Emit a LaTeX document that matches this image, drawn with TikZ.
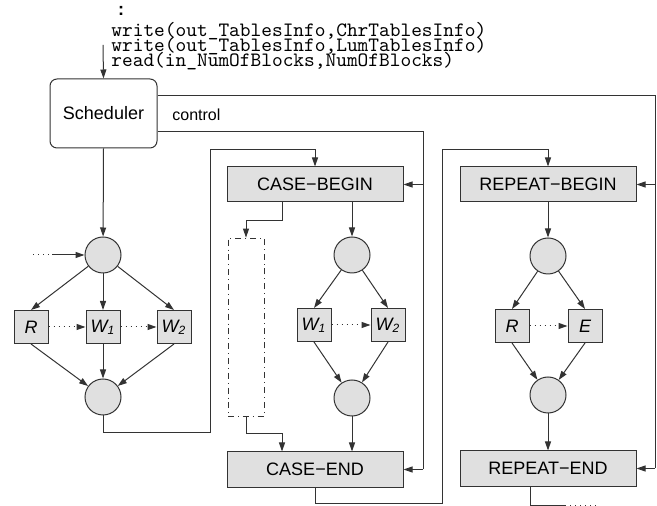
\documentclass[tikz,border=0pt]{standalone}
\usepackage{fontspec}
\setmainfont{Liberation Sans}
\usepackage{tikz}
\usetikzlibrary{positioning, calc, arrows.meta}
\definecolor{boxgray}{HTML}{E0E0E0}
\definecolor{linegray}{HTML}{333333}
\newcommand{\tightlines}{\lineskiplimit=-20pt\relax\lineskip=0pt\relax}
\tikzset{
  >={Triangle[length=4.5pt, width=3pt]},
  sched/.style={
    draw=linegray, line width=0.5pt, rounded corners=3.5pt,
    rectangle, minimum width=53.5pt, minimum height=34.5pt,
    inner sep=0pt, font=\fontsize{9}{10}\selectfont
  },
  ctrlbox/.style={
    draw=linegray, line width=0.5pt, fill=boxgray,
    rectangle, minimum width=88pt, minimum height=17.5pt,
    inner sep=0pt, font=\fontsize{9}{10}\selectfont
  },
  task/.style={
    draw=linegray, line width=0.5pt, fill=boxgray,
    rectangle, minimum width=17pt, minimum height=16.5pt,
    inner sep=0pt, font=\fontsize{9}{10}\selectfont\itshape
  },
  place/.style={
    draw=linegray, line width=0.5pt, fill=boxgray,
    circle, minimum size=18pt, inner sep=0pt
  },
  altbox/.style={
    draw=linegray, line width=0.4pt, dash dot,
    rectangle, minimum width=18pt, minimum height=89pt, inner sep=0pt
  },
  code/.style={
    align=left, inner sep=0pt,
    font=\ttfamily\fontsize{10.2}{7.5}\selectfont\tightlines
  },
  lbl/.style={
    font=\fontsize{8}{9}\selectfont, inner sep=0pt
  },
  flow/.style={
    ->, line width=0.5pt, draw=linegray
  },
  wire/.style={
    line width=0.5pt, draw=linegray
  },
}

\begin{document}
\begin{tikzpicture}[x=0.5pt, y=-0.5pt]

% ---- Frame (pixel grid of the reference, y pointing down) ----------
\useasboundingbox (0,0) rectangle (657,506);

% ---- Program text ---------------------------------------------------
% (base of a multi-line node = baseline of its last line)
\node[code, anchor=base west] (prog) at (111,67)
  {write(out\_TablesInfo,ChrTablesInfo)\\
   write(out\_TablesInfo,LumTablesInfo)\\
   read(in\_NumOfBlocks,NumOfBlocks)};
\node[inner sep=0pt, anchor=base, font=\bfseries\fontsize{9}{10}\selectfont]
  (dots) at (121,16) {:};

% ---- Nodes ----------------------------------------------------------
% Scheduler
\node[sched] (sched) at (103.5,113.5) {Scheduler};
\node[lbl, anchor=west] (ctrl) at (172,115) {control};

% left graph: fork / R W1 W2 / join
\node[place] (fork) at (103,255) {};
\node[task]  (r)    at (31,327)  {R};
\node[task]  (w1)   at (103,327) {W\textsubscript{1}};
\node[task]  (w2)   at (174,327) {W\textsubscript{2}};
\node[place] (join) at (103,397) {};

% CASE block
\node[ctrlbox] (cb)    at (315,184.5) {CASE−BEGIN};
\node[altbox]  (alt)   at (246,327)   {};
\node[place]   (cfork) at (352,255)   {};
\node[task]    (cw1)   at (314,325)   {W\textsubscript{1}};
\node[task]    (cw2)   at (388,325)   {W\textsubscript{2}};
\node[place]   (cjoin) at (352,398)   {};
\node[ctrlbox] (ce)    at (315,469.5) {CASE−END};

% REPEAT block
\node[ctrlbox] (rb)    at (548,184.5) {REPEAT−BEGIN};
\node[place]   (rfork) at (548,256)   {};
\node[task]    (rr)    at (512,326)   {R};
\node[task]    (re_)   at (585,326)   {E};
\node[place]   (rjoin) at (548,395)   {};
\node[ctrlbox] (re)    at (548,468.5) {REPEAT−END};

% ---- Routing points -------------------------------------------------
\coordinate (inTop) at (103,45);
\coordinate (inA)   at (33,255);
\coordinate (inB)   at (52,255);
\coordinate (ctlR)  at (655,96);    % control trunk to REPEAT
\coordinate (ctlC)  at (423,132);   % control trunk to CASE
\coordinate (lpA)   at (210,433);
\coordinate (lpB)   at (210,150);
\coordinate (lpC)   at (442,503);
\coordinate (lpD)   at (442,150);
\coordinate (outA)  at (565,505);
\coordinate (outB)  at (598,505);

% ---- Wires ----------------------------------------------------------
% into the scheduler
\draw[flow] (inTop) -- (sched.north);
\draw[flow] (sched.south) -- (fork);

% control trunks
\draw[wire] (sched.east |- ctlR) -- (ctlR) -- (ctlR |- re);
\draw[flow] (ctlR |- rb) -- (rb.east);
\draw[flow] (ctlR |- re) -- (re.east);
\draw[wire] (sched.east |- ctlC) -- (ctlC) -- (ctlC |- ce);
\draw[flow] (ctlC |- cb) -- (cb.east);
\draw[flow] (ctlC |- ce) -- (ce.east);

% left graph
\draw[wire, dotted] (inA) -- (inB);
\draw[flow] (inB) -- (fork.west);
\draw[flow] (fork) -- (r.north);
\draw[flow] (fork) -- (w1.north);
\draw[flow] (fork) -- (w2.north);
\draw[flow, dotted] (r.east) -- (w1.west);
\draw[flow, dotted] (w1.east) -- (w2.west);
\draw[flow] (r.south) -- (join);
\draw[flow] (w1.south) -- (join);
\draw[flow] (w2.south) -- (join);

% left graph -> CASE
\draw[flow] (join.south) |- (lpA) -- (lpB) -| (cb.north);

% CASE block
\draw[flow] ($(cb.south)+(-33,0)$) -- ++(0,18) -| (alt.north);
\draw[flow] (alt.south) -- ++(0,17) -| ($(ce.north)+(-33,0)$);
\draw[flow] (cfork |- cb.south) -- (cfork);
\draw[flow] (cfork) -- (cw1.north);
\draw[flow] (cfork) -- (cw2.north);
\draw[flow, dotted] (cw1.east) -- (cw2.west);
\draw[flow] (cw1.south) -- (cjoin);
\draw[flow] (cw2.south) -- (cjoin);
\draw[flow] (cjoin) -- (cjoin |- ce.north);

% CASE -> REPEAT
\draw[flow] (ce.south) |- (lpC) -- (lpD) -| (rb.north);

% REPEAT block
\draw[flow] (rb.south) -- (rfork);
\draw[flow] (rfork) -- (rr.north);
\draw[flow] (rfork) -- (re_.north);
\draw[flow, dotted] (rr.east) -- (re_.west);
\draw[flow] (rr.south) -- (rjoin);
\draw[flow] (re_.south) -- (rjoin);
\draw[flow] (rjoin) -- (re.north);

% onwards
\draw[wire] ($(re.south)+(-18,0)$) |- (outA);
\draw[wire, dotted] (outA) -- (outB);

\end{tikzpicture}
\end{document}
